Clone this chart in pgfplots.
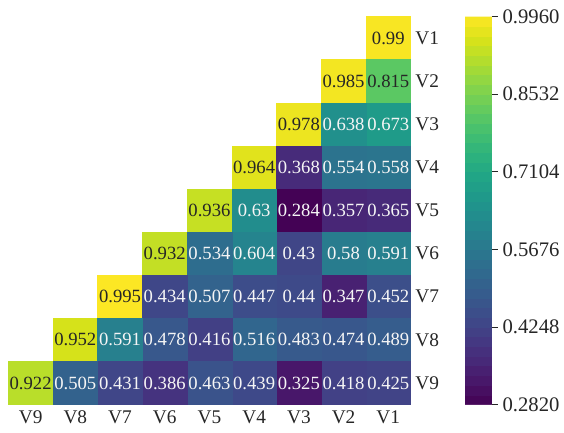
\documentclass[border=0pt]{standalone}
\usepackage{fontspec}
\setmainfont{Liberation Serif}
\usepackage{pgfplots}
\usepackage{pgfplotstable}
\pgfplotsset{compat=1.18}

% x = column position (1 = V9 ... 9 = V1), y = row position (1 = V9 ... 9 = V1)
\pgfplotstableread{
x y v
9 9 0.99
8 8 0.985
7 7 0.978
6 6 0.964
5 5 0.936
4 4 0.932
3 3 0.995
2 2 0.952
1 1 0.922
9 8 0.815
}\hightab
\pgfplotstableread{
x y v
9 7 0.673
8 7 0.638
9 6 0.558
8 6 0.554
7 6 0.368
9 5 0.365
8 5 0.357
7 5 0.284
6 5 0.63
9 4 0.591
8 4 0.58
7 4 0.43
6 4 0.604
5 4 0.534
9 3 0.452
8 3 0.347
7 3 0.44
6 3 0.447
5 3 0.507
4 3 0.434
9 2 0.489
8 2 0.474
7 2 0.483
6 2 0.516
5 2 0.416
4 2 0.478
3 2 0.591
9 1 0.425
8 1 0.418
7 1 0.325
6 1 0.439
5 1 0.463
4 1 0.386
3 1 0.431
2 1 0.505
}\lowtab

\begin{document}
\begin{tikzpicture}
\begin{axis}[
  name=hm,
  x=33.53pt, y=32.33pt,
  xmin=0.5, xmax=9.5, ymin=0.5, ymax=9.5,
  axis x line*=bottom, axis y line*=right,
  axis line style={line width=0.9pt, black!85},
  xtick={1,...,9}, xticklabels={V9,V8,V7,V6,V5,V4,V3,V2,V1},
  ytick={1,...,9}, yticklabels={V9,V8,V7,V6,V5,V4,V3,V2,V1},
  major tick length=0pt,
  tick label style={font=\fontsize{14.5}{14.5}\selectfont, black!85},
  xticklabel style={yshift=-1pt},
  colormap name=viridis,
  point meta min=0.282, point meta max=0.996,
  colorbar sampled,
  colorbar style={
    samples=41,
    at={(parent axis.north east)}, anchor=north west, xshift=32.2pt,
    width=20.25pt,
    ytick={0.282,0.4248,0.5676,0.7104,0.8532,0.996},
    yticklabels={0.2820,0.4248,0.5676,0.7104,0.8532,0.9960},
    axis line style={draw=none},
    tick align=outside, major tick length=4.5pt, ytick pos=right,
    yticklabel style={font=\fontsize{15.5}{15.5}\selectfont, black!85},
    tick style={black!85, line width=0.6pt},
  },
  clip=false,
  labelplot/.style={only marks, mark=none,
    point meta=explicit,
    nodes near coords={\pgfmathprintnumber[precision=3, assume math mode=true]{\pgfplotspointmeta}},
    nodes near coords align={center},
  },
]
\addplot[scatter, only marks, mark=square*, mark size=16.765pt,
    scatter/use mapped color={draw=mapped color, fill=mapped color, yscale=0.9642, line width=0.3pt},
    point meta=explicit] table[x=x, y=y, meta=v] {\hightab};
\addplot[scatter, only marks, mark=square*, mark size=16.765pt,
    scatter/use mapped color={draw=mapped color, fill=mapped color, yscale=0.9642, line width=0.3pt},
    point meta=explicit] table[x=x, y=y, meta=v] {\lowtab};
\addplot[labelplot,
  every node near coord/.append style={font=\fontsize{14}{14}\selectfont, text=black!85, inner sep=0pt},
] table[x=x, y=y, meta=v] {\hightab};
\addplot[labelplot,
  every node near coord/.append style={font=\fontsize{14}{14}\selectfont, text=white!92!gray, inner sep=0pt},
] table[x=x, y=y, meta=v] {\lowtab};
\end{axis}
\pgfresetboundingbox
\path[use as bounding box] ([xshift=-6.2pt,yshift=-20.6pt]hm.south west) rectangle ++(423pt,324pt);
\end{tikzpicture}
\end{document}
